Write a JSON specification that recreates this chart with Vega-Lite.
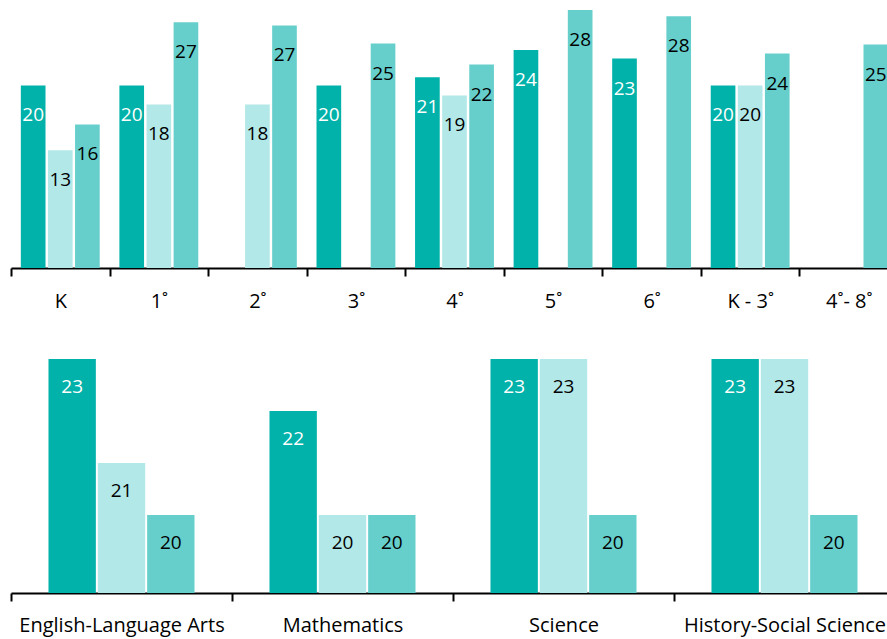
{
  "$schema": "https://vega.github.io/schema/vega-lite/v6.json",
  "padding": {"left": 10, "top": 0, "right": 0, "bottom": 10},
  "background": "white",
  "bounds": "flush",
  "spacing": 65,
  "resolve": {"scale": {"x": "independent", "xOffset": "independent", "y": "independent"}},
  "config": {
    "view": {"stroke": null},
    "font": "Open Sans",
    "axis": {
      "domainColor": "black",
      "domainWidth": 2,
      "tickColor": "black",
      "tickWidth": 2,
      "tickSize": 8,
      "labelFontSize": 20,
      "labelColor": "black",
      "labelBaseline": "alphabetic",
      "labelPadding": 30,
      "labelLimit": 0,
      "labelAngle": 0,
      "grid": false,
      "title": null
    }
  },
  "datasets": {
    "grades": [
      {"grade": "K", "series": "A", "value": 20.1},
      {"grade": "K", "series": "B", "value": 12.95},
      {"grade": "K", "series": "C", "value": 15.8},
      {"grade": "1˚", "series": "A", "value": 20.1},
      {"grade": "1˚", "series": "B", "value": 18.0},
      {"grade": "1˚", "series": "C", "value": 27.05},
      {"grade": "2˚", "series": "B", "value": 18.0},
      {"grade": "2˚", "series": "C", "value": 26.7},
      {"grade": "3˚", "series": "A", "value": 20.1},
      {"grade": "3˚", "series": "C", "value": 24.7},
      {"grade": "4˚", "series": "A", "value": 21.0},
      {"grade": "4˚", "series": "B", "value": 19.0},
      {"grade": "4˚", "series": "C", "value": 22.4},
      {"grade": "5˚", "series": "A", "value": 24.0},
      {"grade": "5˚", "series": "C", "value": 28.4},
      {"grade": "6˚", "series": "A", "value": 23.05},
      {"grade": "6˚", "series": "C", "value": 27.7},
      {"grade": "K - 3˚", "series": "A", "value": 20.1},
      {"grade": "K - 3˚", "series": "B", "value": 20.1},
      {"grade": "K - 3˚", "series": "C", "value": 23.6},
      {"grade": "4˚- 8˚", "series": "C", "value": 24.6}
    ],
    "subjects": [
      {"subject": "English-Language Arts", "series": "A", "value": 23},
      {"subject": "English-Language Arts", "series": "B", "value": 21},
      {"subject": "English-Language Arts", "series": "C", "value": 20},
      {"subject": "Mathematics", "series": "A", "value": 22},
      {"subject": "Mathematics", "series": "B", "value": 20},
      {"subject": "Mathematics", "series": "C", "value": 20},
      {"subject": "Science", "series": "A", "value": 23},
      {"subject": "Science", "series": "B", "value": 23},
      {"subject": "Science", "series": "C", "value": 20},
      {"subject": "History-Social Science", "series": "A", "value": 23},
      {"subject": "History-Social Science", "series": "B", "value": 23},
      {"subject": "History-Social Science", "series": "C", "value": 20}
    ]
  },
  "vconcat": [
    {
      "width": 887,
      "height": 268,
      "data": {"name": "grades"},
      "encoding": {
        "x": {
          "field": "grade",
          "type": "nominal",
          "sort": ["K", "1˚", "2˚", "3˚", "4˚", "5˚", "6˚", "K - 3˚", "4˚- 8˚"],
          "scale": {"paddingInner": 0, "paddingOuter": 0},
          "axis": {"tickBand": "extent", "labelPadding": 31}
        },
        "xOffset": {
          "field": "series",
          "type": "nominal",
          "scale": {"domain": ["A", "B", "C"], "paddingInner": 0.09, "paddingOuter": 0.363}
        },
        "y": {
          "field": "value",
          "type": "quantitative",
          "scale": {"domain": [0, 29.5]},
          "axis": null
        }
      },
      "layer": [
        {
          "mark": {"type": "bar"},
          "encoding": {
            "color": {
              "field": "series",
              "type": "nominal",
              "scale": {"domain": ["A", "B", "C"], "range": ["#00B2A9", "#B3E8E8", "#66CFCB"]},
              "legend": null
            }
          }
        },
        {
          "mark": {"type": "text", "baseline": "middle", "dy": 30, "fontSize": 19},
          "encoding": {
            "text": {"field": "value", "type": "quantitative", "format": ".0f"},
            "color": {"condition": {"test": "datum.series === 'A'", "value": "white"}, "value": "black"}
          }
        }
      ]
    },
    {
      "width": 884,
      "height": 260,
      "data": {"name": "subjects"},
      "encoding": {
        "x": {
          "field": "subject",
          "type": "nominal",
          "sort": ["English-Language Arts", "Mathematics", "Science", "History-Social Science"],
          "scale": {"paddingInner": 0, "paddingOuter": 0},
          "axis": {"tickBand": "extent"}
        },
        "xOffset": {
          "field": "series",
          "type": "nominal",
          "scale": {"domain": ["A", "B", "C"], "paddingInner": 0.04, "paddingOuter": 0.76}
        },
        "y": {
          "field": "value",
          "type": "quantitative",
          "scale": {"domain": [18.5, 23.5], "zero": false},
          "axis": null
        }
      },
      "layer": [
        {
          "mark": {"type": "bar"},
          "encoding": {
            "y2": {"datum": 18.5},
            "color": {
              "field": "series",
              "type": "nominal",
              "scale": {"domain": ["A", "B", "C"], "range": ["#00B2A9", "#B3E8E8", "#66CFCB"]},
              "legend": null
            }
          }
        },
        {
          "mark": {"type": "text", "baseline": "middle", "dy": 28, "fontSize": 19},
          "encoding": {
            "text": {"field": "value", "type": "quantitative", "format": ".0f"},
            "color": {"condition": {"test": "datum.series === 'A'", "value": "white"}, "value": "black"}
          }
        }
      ]
    }
  ]
}
